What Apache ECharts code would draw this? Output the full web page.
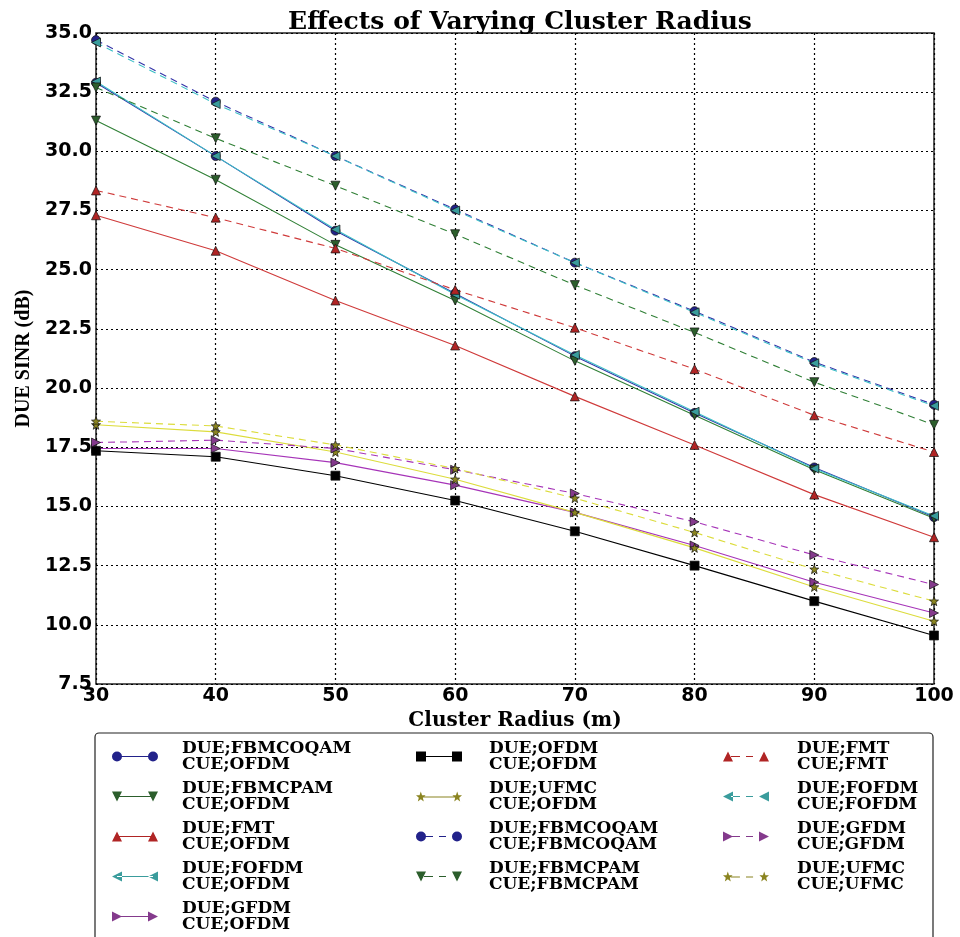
<!DOCTYPE html>
<html><head><meta charset="utf-8">
<script src="https://cdn.jsdelivr.net/npm/echarts/dist/echarts.min.js"></script>
<style>html,body{margin:0;padding:0;background:#fff}#c{width:960px;height:937px}</style>
</head><body><div id="c"></div>
<script>
// ---- data ----
const radius = [30, 40, 50, 60, 70, 80, 90, 100];
const yTickMin = 7.5, yTickMax = 35, yTickStep = 2.5;
const fbmcoqamOfdm     = [32.9, 29.8, 26.65, 24.0, 21.35, 18.95, 16.65, 14.55];
const fbmcpamOfdm      = [31.3, 28.8, 26.05, 23.7, 21.15, 18.85, 16.55, 14.5];
const fmtOfdm          = [27.3, 25.8, 23.7, 21.8, 19.65, 17.6, 15.5, 13.7];
const fofdmOfdm        = [32.95, 29.8, 26.7, 23.95, 21.4, 19.0, 16.6, 14.6];
const gfdmOfdm         = [17.45, 17.45, 16.85, 15.9, 14.75, 13.35, 11.8, 10.5];
const ofdmOfdm         = [17.35, 17.1, 16.3, 15.25, 13.95, 12.5, 11.0, 9.55];
const ufmcOfdm         = [18.45, 18.15, 17.3, 16.15, 14.75, 13.25, 11.6, 10.15];
const fbmcoqamFbmcoqam = [34.7, 32.1, 29.8, 27.55, 25.3, 23.25, 21.1, 19.3];
const fbmcpamFbmcpam   = [32.7, 30.55, 28.55, 26.5, 24.35, 22.35, 20.25, 18.45];
const fmtFmt           = [28.35, 27.2, 25.9, 24.15, 22.55, 20.8, 18.85, 17.3];
const fofdmFofdm       = [34.6, 32.0, 29.8, 27.5, 25.3, 23.2, 21.05, 19.25];
const gfdmGfdm         = [17.7, 17.8, 17.45, 16.55, 15.55, 14.35, 12.95, 11.7];
const ufmcUfmc         = [18.6, 18.4, 17.6, 16.6, 15.35, 13.9, 12.35, 11.0];

// ---- marker shapes (10x10 box) ----
function starPts() {
  const p = [];
  for (let i = 0; i < 10; i++) {
    const a = (-90 + i * 36) * Math.PI / 180;
    const r = i % 2 === 0 ? 5 : 2.1;
    p.push([5 + r * Math.cos(a), 5 + r * Math.sin(a)]);
  }
  return p;
}
const shapePts = {
  up: [[0,10],[5,0],[10,10]],
  down: [[0,0],[10,0],[5,10]],
  left: [[10,0],[0,5],[10,10]],
  right: [[0,0],[10,5],[0,10]],
  square: [[0,0],[10,0],[10,10],[0,10]],
  star: starPts()
};
function shapeAt(shape, dx) {
  if (shape === 'circle') {
    return `M${dx},5A5,5,0,1,1,${dx+10},5A5,5,0,1,1,${dx},5Z`;
  }
  return shapePts[shape].map((q, i) => (i ? 'L' : 'M') + (q[0] + dx).toFixed(2) + ',' + q[1].toFixed(2)).join('') + 'Z';
}
function segRect(a, b) { return `M${a},4.5L${b},4.5L${b},5.5L${a},5.5Z`; }
function legendIcon(shape, dashed) {
  let p = shapeAt(shape, 0) + shapeAt(shape, 36);
  p += dashed ? segRect(8, 17) + segRect(23, 30) : segRect(5, 41);
  return 'path://' + p;
}

const seriesMeta = [
  { name: 'DUE;FBMCOQAM\nCUE;OFDM',     data: fbmcoqamOfdm,     line: '#3434a8', mark: '#22228a', shape: 'circle', dashed: false },
  { name: 'DUE;FBMCPAM\nCUE;OFDM',      data: fbmcpamOfdm,      line: '#2f7f35', mark: '#2c5e2c', shape: 'down',   dashed: false },
  { name: 'DUE;FMT\nCUE;OFDM',          data: fmtOfdm,          line: '#cf3a3a', mark: '#b02424', shape: 'up',     dashed: false },
  { name: 'DUE;FOFDM\nCUE;OFDM',        data: fofdmOfdm,        line: '#3cbfc6', mark: '#3a9c9c', shape: 'left',   dashed: false },
  { name: 'DUE;GFDM\nCUE;OFDM',         data: gfdmOfdm,         line: '#a634b8', mark: '#843a8c', shape: 'right',  dashed: false },
  { name: 'DUE;OFDM\nCUE;OFDM',         data: ofdmOfdm,         line: '#000000', mark: '#000000', shape: 'square', dashed: false },
  { name: 'DUE;UFMC\nCUE;OFDM',         data: ufmcOfdm,         line: '#dcdc3c', mark: '#8a8420', shape: 'star',   dashed: false },
  { name: 'DUE;FBMCOQAM\nCUE;FBMCOQAM', data: fbmcoqamFbmcoqam, line: '#3434a8', mark: '#22228a', shape: 'circle', dashed: true },
  { name: 'DUE;FBMCPAM\nCUE;FBMCPAM',   data: fbmcpamFbmcpam,   line: '#2f7f35', mark: '#2c5e2c', shape: 'down',   dashed: true },
  { name: 'DUE;FMT\nCUE;FMT',           data: fmtFmt,           line: '#cf3a3a', mark: '#b02424', shape: 'up',     dashed: true },
  { name: 'DUE;FOFDM\nCUE;FOFDM',       data: fofdmFofdm,       line: '#3cbfc6', mark: '#3a9c9c', shape: 'left',   dashed: true },
  { name: 'DUE;GFDM\nCUE;GFDM',         data: gfdmGfdm,         line: '#a634b8', mark: '#843a8c', shape: 'right',  dashed: true },
  { name: 'DUE;UFMC\nCUE;UFMC',         data: ufmcUfmc,         line: '#dcdc3c', mark: '#8a8420', shape: 'star',   dashed: true }
];

const legendCols = [[0,1,2,3,4],[5,6,7,8],[9,10,11,12]];
const colLeft = [112, 416, 723];
const colPad = [19, 22, 23];

const chart = echarts.init(document.getElementById('c'), null, { renderer: 'canvas' });
chart.setOption({
  animation: false,
  backgroundColor: '#fff',
  title: {
    text: 'Effects of Varying Cluster Radius',
    left: 515, top: 5, textAlign: 'center',
    textStyle: { fontFamily: 'DejaVu Serif', fontWeight: 'bold', fontSize: 25, color: '#000' }
  },
  grid: { left: 96, right: 26, top: 33, bottom: 253, show: true, borderColor: '#222', borderWidth: 1.5, backgroundColor: '#fff' },
  xAxis: {
    type: 'value', min: 30, max: 100, interval: 10,
    name: 'Cluster Radius (m)', nameLocation: 'middle', nameGap: 16,
    nameTextStyle: { fontFamily: 'DejaVu Serif', fontWeight: 'bold', fontSize: 20, color: '#000' },
    axisLine: { show: false }, axisTick: { show: false },
    axisLabel: { margin: 3, color: '#000', fontFamily: 'DejaVu Sans', fontWeight: 'bold', fontSize: 19 },
    splitLine: { show: true, lineStyle: { color: '#000', width: 1.2, type: [2, 3] } }
  },
  yAxis: {
    type: 'value', min: yTickMin, max: yTickMax, interval: yTickStep,
    name: 'DUE SINR (dB)', nameLocation: 'middle', nameGap: 62,
    nameTextStyle: { fontFamily: 'Liberation Serif', fontWeight: 'bold', fontSize: 20, color: '#000' },
    axisLine: { show: false }, axisTick: { show: false },
    axisLabel: { margin: 4, color: '#000', fontFamily: 'DejaVu Sans', fontWeight: 'bold', fontSize: 19, formatter: v => v.toFixed(1) },
    splitLine: { show: true, lineStyle: { color: '#000', width: 1.2, type: [2, 3] } }
  },
  legend: legendCols.map((idxs, ci) => ({
    orient: 'vertical', left: colLeft[ci], top: 740, padding: 0, itemGap: 7,
    itemWidth: 46, itemHeight: 10, symbolKeepAspect: false, selectedMode: false,
    itemStyle: { borderWidth: 0 },
    textStyle: { fontFamily: 'DejaVu Serif', fontWeight: 'bold', fontSize: 17, lineHeight: 16, color: '#000', padding: [0, 0, 0, colPad[ci]] },
    data: idxs.map(i => ({ name: seriesMeta[i].name, icon: legendIcon(seriesMeta[i].shape, seriesMeta[i].dashed) }))
  })),
  graphic: [{
    type: 'rect', silent: true, z: -10,
    shape: { x: 95, y: 733, width: 838, height: 230, r: 4 },
    style: { fill: 'none', stroke: '#222', lineWidth: 1.2 }
  }],
  series: seriesMeta.map(m => ({
    type: 'line', name: m.name,
    data: radius.map((x, i) => [x, m.data[i]]),
    symbol: 'path://' + shapeAt(m.shape, 0),
    symbolSize: 9,
    showAllSymbol: true,
    lineStyle: { color: m.line, width: 1.1, type: m.dashed ? [7, 5] : 'solid' },
    itemStyle: { color: m.mark, borderColor: '#111', borderWidth: 0.7 },
    emphasis: { disabled: true }
  }))
});
</script></body></html>
